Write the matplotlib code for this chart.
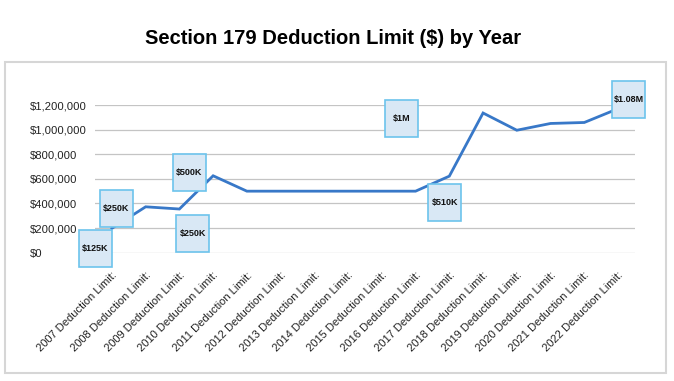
import matplotlib
matplotlib.use("Agg")
import matplotlib.pyplot as plt
from matplotlib.patches import Rectangle
from matplotlib.ticker import FuncFormatter

years = list(range(2007, 2023))
tick_labels = [f"{y} Deduction Limit:" for y in years]
limits = [198000, 373000, 355000, 625000, 500000, 500000, 500000, 500000,
          500000, 500000, 622000, 1135000, 995000, 1050000, 1058000, 1170000]

# callout boxes: text, category position, value position
note_text = ["$125K", "$250K", "$500K", "$250K", "$1M", "$510K", "$1.08M"]
note_x = [-0.5, 0.13, 2.29, 2.40, 8.58, 9.87, 15.32]
note_y = [34000, 362000, 654000, 153000, 1090000, 411000, 1242000]

plt.rcParams["font.family"] = ["Liberation Sans", "DejaVu Sans"]

fig = plt.figure(figsize=(6.74, 3.81), dpi=100)
fig.patches.append(Rectangle((0.0074, 0.02), 0.981, 0.818, transform=fig.transFigure,
                             fill=False, edgecolor="#d6d6d6", linewidth=1.5))
fig.text(0.494, 0.90, "Section 179 Deduction Limit ($) by Year",
         ha="center", va="center", fontsize=14.5, fontweight="bold")

ax = fig.add_axes([0.141, 0.3367, 0.801, 0.3877])
x = list(range(len(years)))
ax.plot(x, limits, color="#3878c8", linewidth=2.0, solid_joinstyle="miter", zorder=3)

ax.set_xlim(-0.5, len(years) - 0.5)
ax.set_ylim(0, 1200000)
ax.set_yticks(range(0, 1200001, 200000))
ax.yaxis.set_major_formatter(FuncFormatter(lambda v, p: f"${v:,.0f}"))
ax.grid(axis="y", color="#c4c4c4", linewidth=0.9)
ax.set_axisbelow(True)
for s in ax.spines.values():
    s.set_visible(False)
# y labels are left aligned in the original
ax.tick_params(axis="y", length=0, pad=46.8, labelsize=8.1, labelcolor="#222222")
for lbl in ax.get_yticklabels():
    lbl.set_horizontalalignment("left")
ax.tick_params(axis="x", length=0, pad=12.5, labelsize=8, labelcolor="#222222")
ax.set_xticks(x)
ax.set_xticklabels(tick_labels, rotation=45, ha="right", va="top", rotation_mode="anchor")

bw, bh = 0.98, 300000
for t, nx, ny in zip(note_text, note_x, note_y):
    ax.add_patch(Rectangle((nx - bw / 2, ny - bh / 2), bw, bh, facecolor="#d9e8f5",
                           edgecolor="#6cc3ec", linewidth=1.2, clip_on=False, zorder=4))
    ax.text(nx, ny, t, ha="center", va="center", fontsize=6.5, fontweight="bold",
            color="#111111", clip_on=False, zorder=5)

fig.savefig("out.png", dpi=100)
